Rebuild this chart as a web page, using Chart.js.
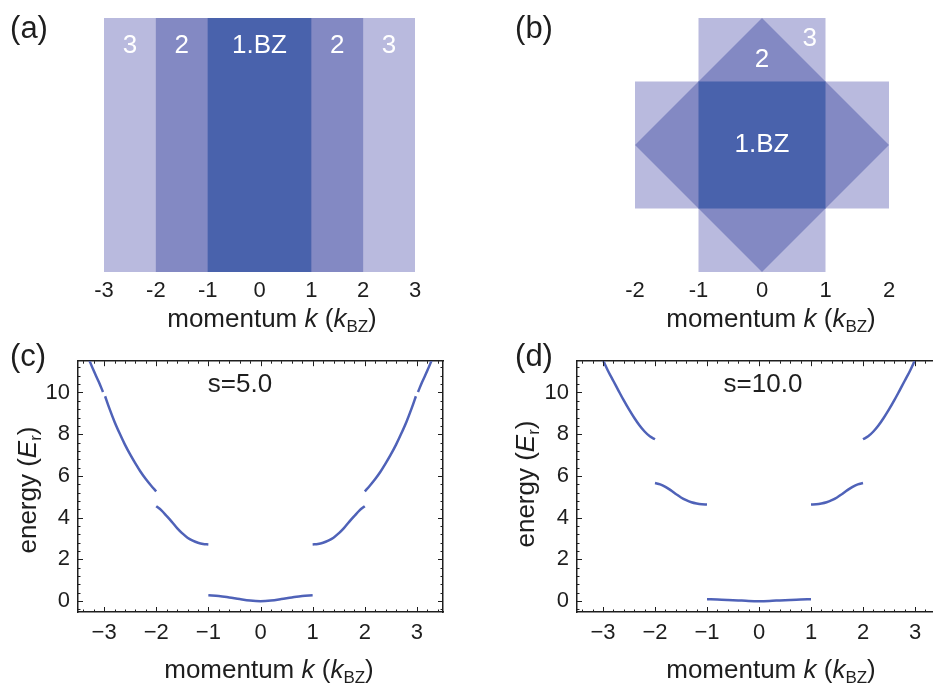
<!DOCTYPE html>
<html>
<head>
<meta charset="utf-8">
<script src="https://cdn.jsdelivr.net/npm/chart.js@4.4.1/dist/chart.umd.min.js"></script>
<style>
  html, body { margin: 0; padding: 0; background: #fff; width: 933px; height: 684px; overflow: hidden; }
  body { position: relative; font-family: "Liberation Sans", Arial, sans-serif; color: #1e1e1e; }
  canvas { position: absolute; }
  .lbl { position: absolute; transform: translate(-50%, -50%); line-height: 1; white-space: nowrap; }
  .panel { font-size: 31px; }
  .ax { font-size: 26px; }
  .note { font-size: 26px; }
  .sb { font-size: 17px; position: relative; top: 0.3em; }
  .vert { transform: translate(-50%, -50%) rotate(-90deg); }
</style>
</head>
<body>
<canvas id="ca" width="466" height="340" style="left:0;top:0"></canvas>
<canvas id="cb" width="467" height="340" style="left:466px;top:0"></canvas>
<canvas id="cc" width="466" height="344" style="left:0;top:340px"></canvas>
<canvas id="cd" width="484" height="344" style="left:480px;top:340px"></canvas>

<div class="lbl panel" style="left:29px;top:27px">(a)</div>
<div class="lbl panel" style="left:534px;top:27px">(b)</div>
<div class="lbl panel" style="left:28px;top:355px">(c)</div>
<div class="lbl panel" style="left:534px;top:355px">(d)</div>

<div class="lbl ax" style="left:272px;top:318px">momentum <i>k</i> (<i>k</i><span class="sb">BZ</span>)</div>
<div class="lbl ax" style="left:771px;top:318px">momentum <i>k</i> (<i>k</i><span class="sb">BZ</span>)</div>
<div class="lbl ax" style="left:269px;top:669px">momentum <i>k</i> (<i>k</i><span class="sb">BZ</span>)</div>
<div class="lbl ax" style="left:771px;top:669px">momentum <i>k</i> (<i>k</i><span class="sb">BZ</span>)</div>
<div class="lbl ax vert" style="left:27px;top:490px">energy (<i>E</i><span class="sb">r</span>)</div>
<div class="lbl ax vert" style="left:525px;top:484px">energy (<i>E</i><span class="sb">r</span>)</div>

<div class="lbl note" style="left:240px;top:383px">s=5.0</div>
<div class="lbl note" style="left:763px;top:383px">s=10.0</div>

<script>
// ---- 1D Brillouin zones (units of k_BZ) ----
const zoneEdges = [-3, -2, -1, 1, 2, 3];
const zoneNumbers = [3, 2, 1];          // outer to inner
const ticks1D = [-3, -2, -1, 0, 1, 2, 3];

// ---- 2D square lattice: zone outlines (kx, ky) ----
const zone1Square  = [[-1, -1], [1, -1], [1, 1], [-1, 1]];
const zone2Diamond = [[0, 2], [2, 0], [0, -2], [-2, 0]];
const zone3Cross   = [[-1, -2], [1, -2], [1, -1], [2, -1], [2, 1], [1, 1],
                      [1, 2], [-1, 2], [-1, 1], [-2, 1], [-2, -1], [-1, -1]];
const ticks2D = [-2, -1, 0, 1, 2];

// ---- band-structure axes ----
const kTicks = [-3, -2, -1, 0, 1, 2, 3];
const eTicks = [0, 2, 4, 6, 8, 10];

// ---- band energies E (E_r) versus momentum k ----
const kBand1  = [-1, -0.8, -0.6, -0.4, -0.2, 0, 0.2, 0.4, 0.6, 0.8, 1];
const kBand2L = [-2, -1.9, -1.8, -1.7, -1.6, -1.5, -1.4, -1.3, -1.2, -1.1, -1];
const kBand2R = [1, 1.1, 1.2, 1.3, 1.4, 1.5, 1.6, 1.7, 1.8, 1.9, 2];

// lattice depth s = 5.0
const s5Band1  = [0.28, 0.25, 0.18, 0.10, 0.03, 0, 0.03, 0.10, 0.18, 0.25, 0.28];
const s5Band2L = [4.55, 4.35, 4.08, 3.80, 3.50, 3.25, 3.04, 2.90, 2.80, 2.74, 2.72];
const s5Band2R = [2.72, 2.74, 2.80, 2.90, 3.04, 3.25, 3.50, 3.80, 4.08, 4.35, 4.55];
const s5kBand3L = [-2.98, -2.9, -2.8, -2.7, -2.6, -2.5, -2.4, -2.3, -2.2, -2.1, -2];
const s5Band3L  = [9.82, 9.25, 8.60, 8.03, 7.50, 7.03, 6.60, 6.20, 5.85, 5.54, 5.26];
const s5kBand3R = [2, 2.1, 2.2, 2.3, 2.4, 2.5, 2.6, 2.7, 2.8, 2.9, 2.98];
const s5Band3R  = [5.26, 5.54, 5.85, 6.20, 6.60, 7.03, 7.50, 8.03, 8.60, 9.25, 9.82];
const s5kBand4L = [-3.3, -3.2, -3.1, -3.02];
const s5Band4L  = [11.65, 11.05, 10.50, 10.02];
const s5kBand4R = [3.02, 3.1, 3.2, 3.3];
const s5Band4R  = [10.02, 10.50, 11.05, 11.65];

// lattice depth s = 10.0
const s10Band1  = [0.09, 0.08, 0.06, 0.035, 0.01, 0, 0.01, 0.035, 0.06, 0.08, 0.09];
const s10Band2L = [5.66, 5.60, 5.48, 5.32, 5.14, 4.97, 4.84, 4.74, 4.68, 4.645, 4.635];
const s10Band2R = [4.635, 4.645, 4.68, 4.74, 4.84, 4.97, 5.14, 5.32, 5.48, 5.60, 5.66];
const s10kBand3L = [-3, -2.9, -2.8, -2.7, -2.6, -2.5, -2.4, -2.3, -2.2, -2.1, -2];
const s10Band3L  = [11.55, 11.02, 10.55, 10.08, 9.62, 9.19, 8.79, 8.43, 8.13, 7.90, 7.76];
const s10kBand3R = [2, 2.1, 2.2, 2.3, 2.4, 2.5, 2.6, 2.7, 2.8, 2.9, 3];
const s10Band3R  = [7.76, 7.90, 8.13, 8.43, 8.79, 9.19, 9.62, 10.08, 10.55, 11.02, 11.55];

// ---- styling ----
const ink = '#1e1e1e';
const family = '"Liberation Sans", Arial, sans-serif';
const zoneFill = { 1: '#4962ac', 2: '#8389c3', 3: '#b9bade' };
const bandColor = '#4f62b8';

Chart.defaults.font.family = family;
Chart.defaults.color = ink;

const pts = (ks, es) => ks.map((k, i) => ({ x: k, y: es[i] }));
const poly = (vs) => vs.map(v => ({ x: v[0], y: v[1] }));
const minusFmt = v => (v < 0 ? '\u2212' + Math.abs(v) : String(v));
const fixedTicks = (vals) => (s) => { s.ticks = vals.map(v => ({ value: v })); };

// text written at data coordinates on top of the shaded zones
const zoneLabels = {
  id: 'zoneLabels',
  afterDatasetsDraw(chart, args, opts) {
    const { ctx, scales: { x, y } } = chart;
    ctx.save();
    ctx.fillStyle = opts.color;
    ctx.font = opts.size + 'px ' + family;
    ctx.textAlign = 'center';
    ctx.textBaseline = 'middle';
    for (const it of opts.items) {
      ctx.fillText(it.text, x.getPixelForValue(it.x), y.getPixelForValue(it.y));
    }
    ctx.restore();
  }
};

// inward major/minor tick marks on all four sides of the frame
const frameTicks = {
  id: 'frameTicks',
  afterDatasetsDraw(chart) {
    const { ctx, chartArea: a, scales: { x, y } } = chart;
    ctx.save();
    ctx.strokeStyle = ink;
    ctx.lineWidth = 1;
    ctx.beginPath();
    for (let i = Math.ceil(x.min * 5); i <= Math.floor(x.max * 5); i++) {
      const px = Math.round(x.getPixelForValue(i / 5)) + 0.5;
      const len = i % 5 === 0 ? 5 : 2.5;
      ctx.moveTo(px, a.bottom); ctx.lineTo(px, a.bottom - len);
      ctx.moveTo(px, a.top); ctx.lineTo(px, a.top + len);
    }
    for (let i = Math.ceil(y.min / 0.4); i <= Math.floor(y.max / 0.4); i++) {
      const py = Math.round(y.getPixelForValue(i * 0.4)) + 0.5;
      const len = i % 5 === 0 ? 5 : 2.5;
      ctx.moveTo(a.left, py); ctx.lineTo(a.left + len, py);
      ctx.moveTo(a.right, py); ctx.lineTo(a.right - len, py);
    }
    ctx.stroke();
    ctx.restore();
  }
};

const baseOpts = { responsive: false, animation: false, events: [] };

const shape = (vs, color, order) => ({
  data: poly(vs), fill: 'shape', backgroundColor: color,
  borderWidth: 0, borderColor: 'transparent', pointRadius: 0, order: order
});

const zoneAxis = (lo, hi, vals) => ({
  type: 'linear', min: lo, max: hi,
  afterFit: s => { s.height = 68; },
  afterBuildTicks: fixedTicks(vals),
  grid: { display: false, drawTicks: false }, border: { display: false },
  ticks: { padding: 6, color: ink, font: { size: 22 }, callback: v => String(v) }
});

// (a) 1D zones, nested strips from outer to inner
const last = zoneEdges.length - 1;
new Chart(document.getElementById('ca'), {
  type: 'line',
  data: {
    datasets: zoneNumbers.map((z, i) => shape(
      [[zoneEdges[i], 0], [zoneEdges[last - i], 0], [zoneEdges[last - i], 1], [zoneEdges[i], 1]],
      zoneFill[z], z))
  },
  options: Object.assign({}, baseOpts, {
    layout: { padding: { left: 104, right: 51, top: 18, bottom: 0 } },
    plugins: {
      legend: { display: false }, tooltip: { enabled: false },
      zoneLabels: {
        color: '#ffffff', size: 26,
        items: [
          { text: '3', x: -2.5, y: 0.89 }, { text: '2', x: -1.5, y: 0.89 },
          { text: '1.BZ', x: 0, y: 0.89 },
          { text: '2', x: 1.5, y: 0.89 }, { text: '3', x: 2.5, y: 0.89 }
        ]
      }
    },
    scales: {
      x: zoneAxis(-3, 3, ticks1D),
      y: { type: 'linear', display: false, min: 0, max: 1 }
    }
  }),
  plugins: [zoneLabels]
});

// (b) 2D zones of the square lattice
new Chart(document.getElementById('cb'), {
  type: 'line',
  data: {
    datasets: [
      shape(zone1Square, zoneFill[1], 1),
      shape(zone2Diamond, zoneFill[2], 2),
      shape(zone3Cross, zoneFill[3], 3)
    ]
  },
  options: Object.assign({}, baseOpts, {
    layout: { padding: { left: 169, right: 44, top: 18, bottom: 0 } },
    plugins: {
      legend: { display: false }, tooltip: { enabled: false },
      zoneLabels: {
        color: '#ffffff', size: 26,
        items: [
          { text: '1.BZ', x: 0, y: 0 },
          { text: '2', x: 0, y: 1.34 },
          { text: '3', x: 0.75, y: 1.67 }
        ]
      }
    },
    scales: {
      x: zoneAxis(-2, 2, ticks2D),
      y: { type: 'linear', display: false, min: -2, max: 2 }
    }
  }),
  plugins: [zoneLabels]
});

// band-structure panels
const band = (data) => ({
  data: data, borderColor: bandColor, borderWidth: 2.5, pointRadius: 0,
  fill: false, tension: 0.35, borderCapStyle: 'butt'
});

function bandChart(id, datasets, leftW) {
  const frameBorder = { display: true, color: ink, width: 1.5 };
  const noGrid = { display: false, drawTicks: false };
  return new Chart(document.getElementById(id), {
    type: 'line',
    data: { datasets: datasets.map(band) },
    options: Object.assign({}, baseOpts, {
      layout: { padding: 0 },
      plugins: { legend: { display: false }, tooltip: { enabled: false } },
      scales: {
        x: {
          type: 'linear', position: 'bottom', min: -3.5, max: 3.5,
          afterFit: s => { s.height = 72; },
          afterBuildTicks: fixedTicks(kTicks),
          grid: noGrid, border: frameBorder,
          ticks: { padding: 8, color: ink, font: { size: 22 }, maxRotation: 0, callback: minusFmt }
        },
        x2: {
          type: 'linear', position: 'top', min: -3.5, max: 3.5,
          afterFit: s => { s.height = 21; },
          grid: noGrid, border: frameBorder, ticks: { display: false }
        },
        y: {
          type: 'linear', position: 'left', min: -0.52, max: 11.5,
          afterFit: s => { s.width = leftW; },
          afterBuildTicks: fixedTicks(eTicks),
          grid: noGrid, border: frameBorder,
          ticks: { padding: 8, color: ink, font: { size: 22 } }
        },
        y2: {
          type: 'linear', position: 'right', min: -0.52, max: 11.5,
          afterFit: s => { s.width = 23; },
          grid: noGrid, border: frameBorder, ticks: { display: false }
        }
      }
    }),
    plugins: [frameTicks]
  });
}

// (c) s = 5.0
bandChart('cc', [
  pts(kBand1, s5Band1),
  pts(kBand2L, s5Band2L), pts(kBand2R, s5Band2R),
  pts(s5kBand3L, s5Band3L), pts(s5kBand3R, s5Band3R),
  pts(s5kBand4L, s5Band4L), pts(s5kBand4R, s5Band4R)
], 78);

// (d) s = 10.0
bandChart('cd', [
  pts(kBand1, s10Band1),
  pts(kBand2L, s10Band2L), pts(kBand2R, s10Band2R),
  pts(s10kBand3L, s10Band3L), pts(s10kBand3R, s10Band3R)
], 97);
</script>
</body>
</html>
